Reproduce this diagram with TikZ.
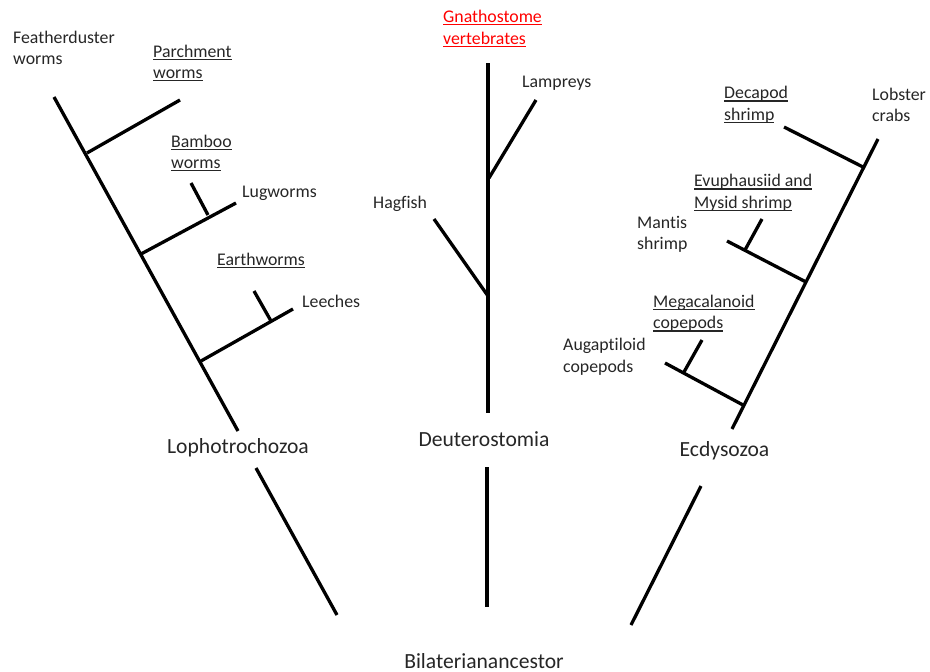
\documentclass[tikz,border=0pt]{standalone}
\usepackage{fontspec}
\setmainfont[Ligatures=NoCommon]{Carlito}
\newcommand\ulx[1]{{\setbox0=\hbox{#1}\rlap{\rule[-2.6pt]{\wd0}{1.1pt}}\box0}}
\definecolor{txt}{RGB}{38,38,38}
\definecolor{redtxt}{RGB}{255,0,0}
\tikzset{
  branch/.style={line width=3.3pt, line cap=butt},
  lbl/.style={font=\fontsize{17.8}{21.5}\selectfont, text=txt, align=left, anchor=west, inner sep=0pt},
  clade/.style={font=\fontsize{21.6}{25}\selectfont, text=txt, inner sep=0pt},
}
\begin{document}
\begin{tikzpicture}[x=1pt,y=-1pt]
\useasboundingbox (0,0) rectangle (930,672);
% ---------- Lophotrochozoa ----------
\coordinate (L0) at (54,97);
\coordinate (L1) at (238,431);
\coordinate (Lj1) at (87,153);
\coordinate (Lp) at (180,100);
\coordinate (Lj2) at (141,254);
\coordinate (Llug) at (236,203);
\coordinate (Lk2) at (208,215);
\coordinate (Lbam) at (191,183);
\coordinate (Lj3) at (201,361);
\coordinate (Llee) at (293,309);
\coordinate (Lk3) at (271,321);
\coordinate (Lear) at (254,291);
\draw[branch] (L0) -- (L1);
\draw[branch] (Lj1) -- (Lp);
\draw[branch] (Lj2) -- (Llug);
\draw[branch] (Lk2) -- (Lbam);
\draw[branch] (Lj3) -- (Llee);
\draw[branch] (Lk3) -- (Lear);
\node[lbl] (feather) at (13,48) {Featherduster\\worms};
\node[lbl] (parch) at (153,63) {\ulx{Parchment}\\\ulx{worms}};
\node[lbl] (bamboo) at (171,153) {\ulx{Bamboo}\\\ulx{worms}};
\node[lbl] (lug) at (242,193) {Lugworms};
\node[lbl] (earth) at (217,261) {\ulx{Earthworms}};
\node[lbl] (leech) at (302,301) {Leeches};
% ---------- Deuterostomia ----------
\coordinate (D0) at (488,63);
\coordinate (D1) at (488,413);
\coordinate (Dj1) at (489,178);
\coordinate (Dlam) at (536,100);
\coordinate (Dj2) at (488,296);
\coordinate (Dhag) at (434,219);
\draw[branch] (D0) -- (D1);
\draw[branch] (Dj1) -- (Dlam);
\draw[branch] (Dj2) -- (Dhag);
\node[lbl, text=redtxt] (gnath) at (443,28.5) {\ulx{Gnathostome}\\\ulx{vertebrates}};
\node[lbl] (lamp) at (522,83) {Lampreys};
\node[lbl] (hag) at (373,204) {Hagfish};
% ---------- Ecdysozoa ----------
\coordinate (E0) at (878,139);
\coordinate (E1) at (732,429);
\coordinate (Ej1) at (863,167);
\coordinate (Edec) at (784,127);
\coordinate (Ej2) at (806,282);
\coordinate (Eman) at (727,241);
\coordinate (Ek2) at (745,250);
\coordinate (Eevu) at (762,219);
\coordinate (Ej3) at (743,405);
\coordinate (Eaug) at (665,363);
\coordinate (Ek3) at (684,372);
\coordinate (Emeg) at (702,340);
\draw[branch] (E0) -- (E1);
\draw[branch] (Ej1) -- (Edec);
\draw[branch] (Ej2) -- (Eman);
\draw[branch] (Ek2) -- (Eevu);
\draw[branch] (Ej3) -- (Eaug);
\draw[branch] (Ek3) -- (Emeg);
\node[lbl] (decap) at (724,105) {\ulx{Decapod}\\\ulx{shrimp}};
\node[lbl] (lob) at (872,105) {Lobster\\crabs};
\node[lbl] (evu) at (694,193) {\ulx{Evuphausiid and}\\\ulx{Mysid shrimp}};
\node[lbl] (mant) at (637,234.5) {Mantis\\shrimp};
\node[lbl] (mega) at (653,313.5) {\ulx{Megacalanoid}\\\ulx{copepods}};
\node[lbl] (aug) at (563,357) {Augaptiloid\\copepods};
% ---------- clade labels and stems ----------
\node[clade] (loph) at (238,448) {Lophotrochozoa};
\node[clade] (deut) at (484,439) {Deuterostomia};
\node[clade] (ecd) at (724.5,451) {Ecdysozoa};
\node[clade] (bil) at (484,661) {Bilaterianancestor};
\coordinate (Ls0) at (256,468);
\coordinate (Ls1) at (337,615);
\coordinate (Ds0) at (487,467);
\coordinate (Ds1) at (487,607);
\coordinate (Es0) at (701,486);
\coordinate (Es1) at (631,625);
\draw[branch] (Ls0) -- (Ls1);
\draw[branch] (Ds0) -- (Ds1);
\draw[branch] (Es0) -- (Es1);
\end{tikzpicture}
\end{document}
